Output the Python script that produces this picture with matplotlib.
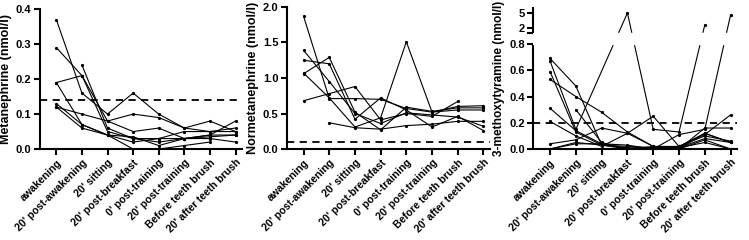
import numpy as np
import matplotlib
matplotlib.use("Agg")
import matplotlib.pyplot as plt

plt.rcParams["font.family"] = ["Liberation Sans", "DejaVu Sans"]
plt.rcParams["font.weight"] = "bold"
plt.rcParams["axes.labelweight"] = "bold"
plt.rcParams["font.size"] = 8

times = ["awakening", "20' post-awakening", "20' sitting", "20' post-breakfast",
         "0' post-training", "20' post-training", "Before teeth brush",
         "20' after teeth brush"]
nan = np.nan

# Metanephrine (nmol/l), one list per subject
met = [
    [0.37, 0.16, 0.10, 0.16, 0.10, 0.06, 0.05, 0.05],
    [0.29, 0.21, 0.05, 0.03, 0.03, 0.05, 0.05, 0.06],
    [nan, 0.24, 0.06, 0.03, 0.02, 0.03, 0.04, 0.04],
    [0.19, 0.21, 0.08, 0.10, 0.09, 0.06, 0.08, 0.05],
    [0.19, 0.07, 0.04, 0.02, 0.03, 0.03, 0.04, 0.08],
    [0.13, 0.07, 0.04, 0.00, 0.00, 0.01, 0.02, nan],
    [0.12, 0.10, 0.08, 0.05, 0.06, 0.03, 0.03, 0.02],
    [0.12, 0.06, 0.04, 0.035, 0.01, 0.03, 0.035, 0.04],
]
met_ref = 0.14

# Normetanephrine (nmol/l)
normet = [
    [1.87, 0.71, 0.71, 0.70, 0.57, 0.52, 0.60, 0.61],
    [1.39, 0.95, 0.50, 0.36, 0.51, 0.48, 0.45, 0.32],
    [1.25, 1.20, 0.42, 0.72, 0.55, 0.31, 0.46, 0.26],
    [1.07, 0.72, 0.31, 0.44, 1.51, 0.52, 0.55, 0.55],
    [1.06, 1.29, 0.52, 0.27, 0.59, 0.53, 0.58, 0.58],
    [0.68, 0.78, 0.88, 0.41, 0.50, 0.46, 0.67, nan],
    [nan, 0.37, 0.30, 0.28, 0.33, 0.35, 0.39, 0.39],
]
normet_ref = 0.1

# 3-methoxytyramine (nmol/l)
mty = [
    [0.69, 0.48, 0.03, 0.02, 0.01, 0.00, 0.12, 0.05],
    [0.67, 0.15, nan, 5.00, 0.15, 0.13, 2.60, nan],
    [0.59, 0.13, 0.03, 0.01, 0.01, 0.02, 0.10, 0.06],
    [0.53, 0.40, 0.28, 0.13, 0.02, 0.01, 0.08, 0.05],
    [0.31, 0.14, 0.04, 0.00, 0.00, 0.01, 0.05, 0.00],
    [0.21, 0.10, 0.02, 0.12, 0.25, 0.02, 0.11, 0.26],
    [0.04, 0.07, 0.16, 0.12, 0.02, 0.00, 0.16, 0.16],
    [0.00, 0.05, 0.03, 0.00, 0.02, 0.02, 0.12, 0.05],
    [nan, 0.30, 0.05, 0.00, 0.00, 0.00, 0.07, 0.00],
    [0.00, 0.04, 0.04, 0.03, 0.00, 0.11, 0.15, 4.60],
]
mty_ref = 0.2

x = np.arange(len(times))

fig = plt.figure(figsize=(7.49, 2.40), dpi=100)


def style(ax):
    for s in ["top", "right"]:
        ax.spines[s].set_visible(False)
    for s in ["left", "bottom"]:
        ax.spines[s].set_linewidth(1.5)
    ax.tick_params(width=1.5, length=4, pad=2, labelsize=8)
    ax.set_xticks(x)
    ax.set_xticklabels(times, rotation=45, ha="right", rotation_mode="anchor",
                       fontweight="bold", fontsize=7.6)
    ax.set_xlim(-0.65, 7.25)


def draw(ax, series, ref):
    for s in series:
        s = np.array(s)
        ok = ~np.isnan(s)  # connect across missing points
        ax.plot(x[ok], s[ok], color="black", lw=0.8, marker="o", ms=1.3)
    ax.axhline(ref, color="black", lw=1.3, ls=(0, (4, 3)))


ax1 = fig.add_axes([0.053, 0.379, 0.27, 0.583])
draw(ax1, met, met_ref)
style(ax1)
ax1.set_ylim(0, 0.4)
ax1.set_yticks([0, 0.1, 0.2, 0.3, 0.4])
ax1.set_yticklabels(["0.0", "0.1", "0.2", "0.3", "0.4"], fontweight="bold")
ax1.set_ylabel("Metanephrine (nmol/l)", fontsize=9, fontweight="bold", labelpad=3)

ax2 = fig.add_axes([0.383, 0.379, 0.271, 0.592])
draw(ax2, normet, normet_ref)
style(ax2)
ax2.set_ylim(0, 2.0)
ax2.set_yticks([0, 0.5, 1.0, 1.5, 2.0])
ax2.set_yticklabels(["0.0", "0.5", "1.0", "1.5", "2.0"], fontweight="bold")
ax2.set_ylabel("Normetanephrine (nmol/l)", fontsize=9, fontweight="bold", labelpad=3)

# broken y axis: 0-0.8 below, 1.0-6.2 above, with a small gap
brk_v = [-100, 0, 0.8, 1.0, 6.2, 100]
brk_t = [-100 * 131.25, 0, 105, 116, 142, 142 + 93.8 * 5]


def fwd(v):
    return np.interp(v, brk_v, brk_t)


def inv(t):
    return np.interp(t, brk_t, brk_v)


ax3 = fig.add_axes([0.712, 0.379, 0.272, 0.592])
draw(ax3, mty, mty_ref)
style(ax3)
ax3.set_yscale("function", functions=(fwd, inv))
ax3.set_ylim(0, 6.2)
ax3.axhspan(0.802, 0.998, color="white", zorder=5)
ax3.spines["left"].set_visible(False)
yt = ax3.get_yaxis_transform()
ax3.plot([0, 0], [0, 0.8], color="black", lw=1.5, transform=yt, clip_on=False,
         solid_capstyle="butt")
ax3.plot([0, 0], [1.0, 6.2], color="black", lw=1.5, transform=yt, clip_on=False,
         solid_capstyle="butt")
ax3.set_yticks([0, 0.2, 0.4, 0.6, 0.8, 1.0, 2, 5])
ax3.set_yticklabels(["0.0", "0.2", "0.4", "0.6", "0.8", "", "2", "5"], fontweight="bold")
ax3.yaxis.set_minor_locator(matplotlib.ticker.NullLocator())
ax3.set_ylabel("3-methoxytyramine (nmol/l)", fontsize=8.6, fontweight="bold", labelpad=3)

fig.savefig("out.png", dpi=100)
